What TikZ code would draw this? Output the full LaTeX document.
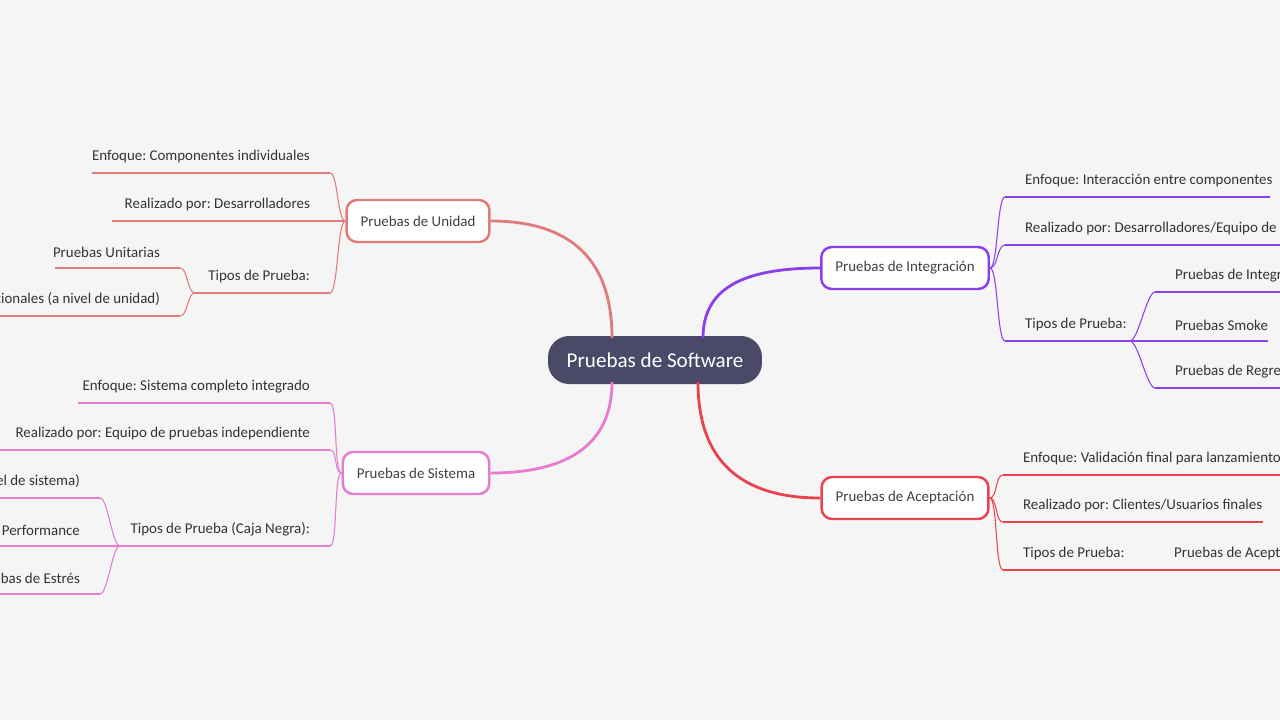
\documentclass[tikz,border=0pt]{standalone}
\usepackage{fontspec}
\setmainfont{Carlito}
\usetikzlibrary{positioning}
\frenchspacing
\definecolor{bgc}{HTML}{F5F5F5}
\definecolor{rootc}{HTML}{4A4A68}
\definecolor{unic}{HTML}{E07B7B}
\definecolor{sisc}{HTML}{E77BD2}
\definecolor{intc}{HTML}{8A3FE8}
\definecolor{acec}{HTML}{E8434F}
\tikzset{
  topic/.style={draw=#1,line width=1.4pt,rounded corners=6pt,fill=white,font=\fontsize{8.5}{10}\selectfont,text=black!75,minimum height=0.84cm,inner xsep=8pt},
  leaf/.style={font=\fontsize{8.5}{10}\selectfont,text=black!80,inner sep=1pt},
  branch/.style={line width=1.6pt,#1},
  twig/.style={line width=0.6pt,#1}
}
% left leaf: name, parent, colour, x1, x2, y, text
\newcommand{\leafL}[7]{%
  \coordinate (#1e) at (#5,#6);
  \draw[twig=#3] (#4,#6) -- (#1e);
  \node[leaf,anchor=south east] (#1) at (#5-18,#6-8) {#7};
  \draw[twig=#3] (#1e) .. controls +(8,0) and +(-8,0) .. (#2);}
% right leaf
\newcommand{\leafR}[7]{%
  \coordinate (#1s) at (#4,#6);
  \draw[twig=#3] (#1s) -- (#5,#6);
  \node[leaf,anchor=south west] (#1) at (#4+18,#6-8) {#7};
  \draw[twig=#3] (#2) .. controls +(8,0) and +(-8,0) .. (#1s);}
\begin{document}
\begin{tikzpicture}[x=0.02cm,y=-0.02cm]
    \fill[bgc] (0,0) rectangle (1280,720);
    \clip (0,0) rectangle (1280,720);
    % Root
    \node[fill=rootc,text=white,rounded corners=12pt,minimum width=4.28cm,minimum height=0.96cm,font=\fontsize{12}{14}\selectfont] (root) at (655,360) {Pruebas de Software};
    % Topics
    \node[topic=unic] (uni) at (418,221) {Pruebas de Unidad};
    \node[topic=sisc] (sis) at (416,473) {Pruebas de Sistema};
    \node[topic=intc] (int) at (905,268) {Pruebas de Integración};
    \node[topic=acec] (ace) at (905,498) {Pruebas de Aceptación};
    \draw[branch=unic] (612,338) .. controls (612,250) and (560,221) .. (uni.east);
    \draw[branch=sisc] (612,382) .. controls (612,450) and (560,473) .. (sis.east);
    \draw[branch=intc] (703,338) .. controls (703,290) and (740,268) .. (int.west);
    \draw[branch=acec] (698,382) .. controls (698,460) and (740,498) .. (ace.west);
    % Unidad
    \leafL{u1}{uni.west}{unic}{92}{330}{173}{Enfoque: Componentes individuales}
    \leafL{u2}{uni.west}{unic}{112}{330}{221}{Realizado por: Desarrolladores}
    \leafL{u3}{uni.west}{unic}{195}{330}{293}{Tipos de Prueba:}
    \coordinate (u3s) at (195,293);
    \leafL{u31}{u3s}{unic}{55}{180}{268}{Pruebas Unitarias}
    \leafL{u32}{u3s}{unic}{-200}{180}{316}{Pruebas Funcionales (a nivel de unidad)}
    % Sistema
    \leafL{s1}{sis.west}{sisc}{78}{330}{403}{Enfoque: Sistema completo integrado}
    \leafL{s2}{sis.west}{sisc}{0}{330}{450}{Realizado por: Equipo de pruebas independiente}
    \leafL{s3}{sis.west}{sisc}{120}{330}{546}{Tipos de Prueba (Caja Negra):}
    \coordinate (s3s) at (120,546);
    \leafL{s31}{s3s}{sisc}{-200}{100}{498}{Pruebas Funcionales (a nivel de sistema)}
    \leafL{s32}{s3s}{sisc}{-200}{100}{546}{Pruebas de Performance}
    \leafL{s33}{s3s}{sisc}{-200}{100}{594}{Pruebas de Estrés}
    % Integracion
    \leafR{i1}{int.east}{intc}{1005}{1270}{197}{Enfoque: Interacción entre componentes}
    \leafR{i2}{int.east}{intc}{1005}{1300}{245}{Realizado por: Desarrolladores/Equipo de Integración}
    \leafR{i3}{int.east}{intc}{1005}{1130}{341}{Tipos de Prueba:}
    \coordinate (i3e) at (1130,341);
    \leafR{i31}{i3e}{intc}{1155}{1300}{292}{Pruebas de Integración}
    \leafR{i32}{i3e}{intc}{1155}{1268}{341}{Pruebas Smoke}
    \leafR{i33}{i3e}{intc}{1155}{1300}{388}{Pruebas de Regresión}
    % Aceptacion
    \leafR{a1}{ace.east}{acec}{1003}{1300}{475}{Enfoque: Validación final para lanzamiento}
    \leafR{a2}{ace.east}{acec}{1003}{1263}{522}{Realizado por: Clientes/Usuarios finales}
    \leafR{a3}{ace.east}{acec}{1003}{1155}{570}{Tipos de Prueba:}
    \coordinate (a3e) at (1155,570);
    \draw[twig=acec] (a3e) -- (1300,570);
    \node[leaf,anchor=south west] (a31) at (1172,562) {Pruebas de Aceptación};
\end{tikzpicture}
\end{document}
